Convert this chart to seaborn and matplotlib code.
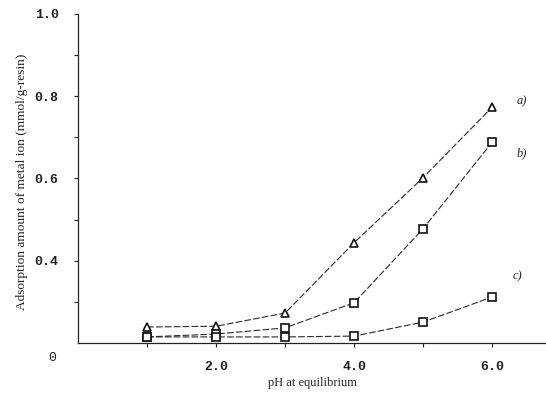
import numpy as np
import pandas as pd
import matplotlib
matplotlib.use("Agg")
import matplotlib.pyplot as plt
import seaborn as sns

# Data
ph = [1.0, 2.0, 3.0, 4.0, 5.0, 6.0]
series_a = [0.239, 0.241, 0.273, 0.444, 0.602, 0.773]
series_b = [0.215, 0.222, 0.237, 0.298, 0.478, 0.688]
series_c = [0.215, 0.215, 0.215, 0.217, 0.251, 0.312]
series_names = ["a)", "b)", "c)"]
y_ticks = [0.4, 0.6, 0.8, 1.0]
y_tick_labels = ["0.4", "0.6", "0.8", "1.0"]
x_ticks = [2.0, 4.0, 6.0]
x_tick_labels = ["2.0", "4.0", "6.0"]

sns.set_theme(style="white")
plt.rcParams["font.family"] = ["Liberation Serif", "DejaVu Serif"]

fig = plt.figure(figsize=(5.46, 3.93), dpi=100)
ax = fig.add_axes([0.143, 0.127, 0.857, 0.838])

markers = {"a)": "^", "b)": "s", "c)": "s"}
for name, vals in zip(series_names, [series_a, series_b, series_c]):
    df = pd.DataFrame({"pH": ph, "amount": vals})
    sns.lineplot(data=df, x="pH", y="amount", ax=ax, color="#2a2a2a",
                 linewidth=0.8, linestyle=(0, (6, 2)),
                 marker=markers[name], markersize=6,
                 markerfacecolor="white", markeredgecolor="#111111",
                 markeredgewidth=1.2)

ax.set_xlim(0, 6.78)
ax.set_ylim(0.2, 1.0)
ax.set_xticks(x_ticks)
ax.set_xticklabels(x_tick_labels)
ax.set_xticks([1.0, 3.0, 5.0], minor=True)
ax.set_yticks(y_ticks)
ax.set_yticklabels(y_tick_labels)
ax.set_yticks([0.3, 0.5, 0.7, 0.9], minor=True)
ax.tick_params(axis="both", which="both", direction="out", length=3,
               width=0.8, color="#222222", bottom=True, left=True)
ax.tick_params(axis="y", which="major", labelsize=9.5, pad=11,
               labelcolor="#222222")
ax.tick_params(axis="x", which="major", labelsize=9.5, pad=10,
               labelcolor="#222222")
for lab in ax.get_xticklabels() + ax.get_yticklabels():
    lab.set_family(["Liberation Mono", "DejaVu Sans Mono"])
    lab.set_fontweight("bold")

for s in ["top", "right"]:
    ax.spines[s].set_visible(False)
for s in ["left", "bottom"]:
    ax.spines[s].set_color("#222222")
    ax.spines[s].set_linewidth(0.9)

ax.set_xlabel("pH at equilibrium", fontsize=9, color="#222222", labelpad=3)
ax.set_ylabel("Adsorption amount of metal ion (mmol/g-resin)", fontsize=9.6,
              color="#222222", labelpad=7)
ax.yaxis.set_label_coords(-0.108, 0.49)

# series labels at line ends
label_pos = {"a)": (6.35, 0.787), "b)": (6.35, 0.66), "c)": (6.29, 0.363)}
for name in series_names:
    x, y = label_pos[name]
    ax.text(x, y, name, fontsize=9, style="italic", color="#222222",
            va="center", ha="left")

fig.text(52 / 546, 1 - 358 / 393, "0", fontsize=9.5, color="#222222",
         ha="center", va="center", family=["Liberation Mono"])

fig.savefig("out.png", dpi=100)
